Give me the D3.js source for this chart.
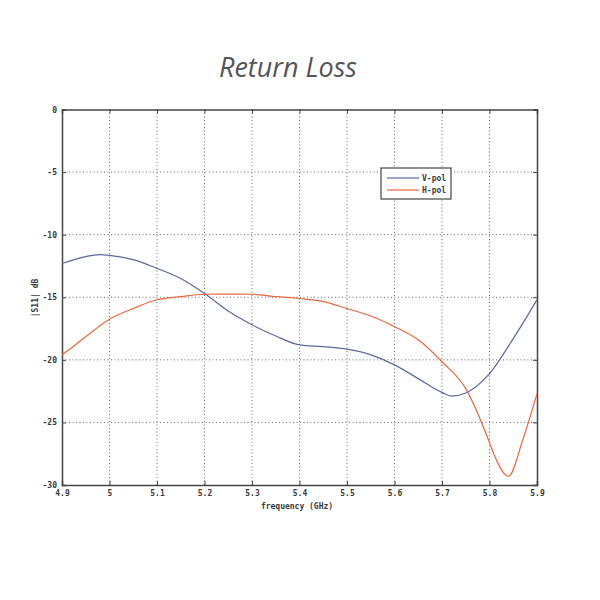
<!DOCTYPE html>
<html lang="en">
<head>
<meta charset="utf-8">
<title>Return Loss</title>
<script src="https://d3js.org/d3.v7.min.js"></script>
<style>
  body { margin: 0; background: #fff; }
  .tick text, .lab { font-family: "DejaVu Sans Mono", monospace; font-size: 8px; font-weight: bold; fill: #3a3a3a; }
  .title { font-family: "Open Sans", sans-serif; font-style: italic; font-size: 27px; fill: #555; }
</style>
</head>
<body>
<script>
// data
var vFreq = [4.9, 4.95, 4.98, 5.0, 5.05, 5.1, 5.15, 5.2, 5.25, 5.3, 5.35, 5.4, 5.45, 5.5, 5.55, 5.6, 5.65, 5.7, 5.72, 5.75, 5.8, 5.85, 5.9];
var vPol  = [-12.3, -11.75, -11.6, -11.65, -12.0, -12.7, -13.5, -14.7, -16.1, -17.2, -18.1, -18.8, -18.95, -19.15, -19.6, -20.4, -21.5, -22.6, -22.9, -22.65, -21.1, -18.3, -15.2];
var hFreq = [4.9, 4.925, 4.95, 5.0, 5.05, 5.1, 5.15, 5.2, 5.25, 5.3, 5.35, 5.4, 5.45, 5.5, 5.55, 5.6, 5.65, 5.7, 5.75, 5.8, 5.81, 5.84, 5.87, 5.9];
var hPol  = [-19.6, -18.9, -18.15, -16.75, -15.9, -15.2, -14.95, -14.76, -14.75, -14.76, -14.95, -15.1, -15.35, -15.9, -16.5, -17.35, -18.4, -20.15, -22.3, -26.6, -27.6, -29.3, -26.4, -22.7];
var xTicks = [4.9, 5, 5.1, 5.2, 5.3, 5.4, 5.5, 5.6, 5.7, 5.8, 5.9];
var yTicks = [0, -5, -10, -15, -20, -25, -30];
var seriesNames = ["V-pol", "H-pol"];
var seriesColors = ["#5a6a9e", "#e5683f"];

var width = 600, height = 600;
var svg = d3.select("body").append("svg")
    .attr("width", width)
    .attr("height", height);

var x = d3.scaleLinear().domain([4.9, 5.9]).range([62, 537]);
var y = d3.scaleLinear().domain([-30, 0]).range([485, 109.5]);

svg.append("text")
    .attr("class", "title")
    .attr("x", 288)
    .attr("y", 77)
    .attr("text-anchor", "middle")
    .text("Return Loss");

// grid
svg.append("g").selectAll("line")
    .data(xTicks.slice(1, -1))
    .enter().append("line")
    .attr("x1", function(d) { return x(d); })
    .attr("x2", function(d) { return x(d); })
    .attr("y1", y(0)).attr("y2", y(-30))
    .attr("stroke", "#444").attr("stroke-width", 0.8)
    .attr("stroke-dasharray", "1,2.5");
svg.append("g").selectAll("line")
    .data(yTicks.slice(1, -1))
    .enter().append("line")
    .attr("y1", function(d) { return y(d); })
    .attr("y2", function(d) { return y(d); })
    .attr("x1", x(4.9)).attr("x2", x(5.9))
    .attr("stroke", "#444").attr("stroke-width", 0.8)
    .attr("stroke-dasharray", "1,2.5");

// axes
var xAxis = svg.append("g")
    .attr("transform", "translate(0," + y(-30) + ")")
    .call(d3.axisBottom(x).tickValues(xTicks).tickSize(-4).tickPadding(8).tickFormat(d3.format("")));
var yAxis = svg.append("g")
    .attr("transform", "translate(" + x(4.9) + ",0)")
    .call(d3.axisLeft(y).tickValues(yTicks).tickSize(-4).tickPadding(5).tickFormat(function(d) { return d; }));
svg.append("g")
    .attr("transform", "translate(0," + y(0) + ")")
    .call(d3.axisTop(x).tickValues(xTicks).tickSize(-4).tickFormat(""));
svg.append("g")
    .attr("transform", "translate(" + x(5.9) + ",0)")
    .call(d3.axisRight(y).tickValues(yTicks).tickSize(-4).tickFormat(""));
svg.selectAll(".domain").attr("stroke", "#444").attr("stroke-width", 1.5);
svg.selectAll(".tick line").attr("stroke", "#444");
xAxis.selectAll(".tick text").attr("dy", "0.4em");

// lines
var line = d3.line()
    .x(function(d) { return x(d[0]); })
    .y(function(d) { return y(d[1]); })
    .curve(d3.curveMonotoneX);

var series = [d3.zip(vFreq, vPol), d3.zip(hFreq, hPol)];
svg.selectAll(".curve")
    .data(series)
    .enter().append("path")
    .attr("class", "curve")
    .attr("d", line)
    .attr("fill", "none")
    .attr("stroke", function(d, i) { return seriesColors[i]; })
    .attr("stroke-width", 1.2);

// labels
svg.append("text")
    .attr("class", "lab")
    .attr("x", 297).attr("y", 509)
    .attr("text-anchor", "middle")
    .text("frequency (GHz)");
svg.append("text")
    .attr("class", "lab")
    .attr("transform", "translate(38,298) rotate(-90)")
    .attr("text-anchor", "middle")
    .text("|S11| dB");

// legend
var lg = svg.append("g").attr("transform", "translate(381,168)");
lg.append("rect")
    .attr("width", 70).attr("height", 31)
    .attr("fill", "#fff").attr("stroke", "#444").attr("stroke-width", 1.2);
var items = lg.selectAll(".item")
    .data(seriesNames)
    .enter().append("g")
    .attr("transform", function(d, i) { return "translate(0," + (10 + i * 12) + ")"; });
items.append("line")
    .attr("x1", 6).attr("x2", 38)
    .attr("stroke", function(d, i) { return seriesColors[i]; })
    .attr("stroke-width", 1.2);
items.append("text")
    .attr("class", "lab")
    .attr("x", 41).attr("dy", "0.35em")
    .text(function(d) { return d; });
</script>
</body>
</html>
